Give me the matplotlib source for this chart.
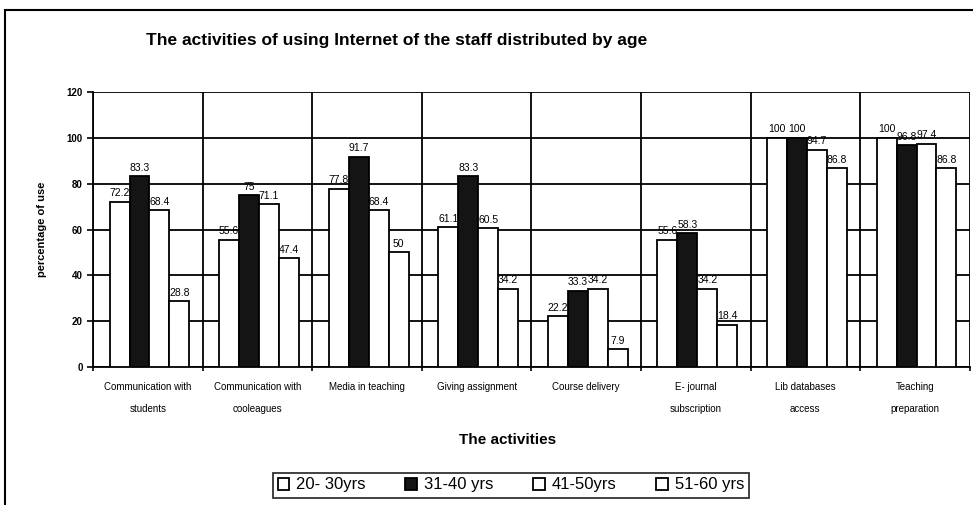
import matplotlib
matplotlib.use('Agg')
import matplotlib.pyplot as plt
from matplotlib.patches import Rectangle
import numpy as np

plt.rcParams['font.family'] = ['Liberation Sans', 'DejaVu Sans']

# Data
activities = ['Communication with\nstudents', 'Communication with\ncooleagues', 'Media in teaching',
              'Giving assignment', 'Course delivery', 'E- journal\nsubscription',
              'Lib databases\naccess', 'Teaching\npreparation']
groups = ['20- 30yrs', '31-40 yrs', '41-50yrs', '51-60 yrs']
age_20_30 = [72.2, 55.6, 77.8, 61.1, 22.2, 55.6, 100, 100]
age_31_40 = [83.3, 75, 91.7, 83.3, 33.3, 58.3, 100, 96.8]
age_41_50 = [68.4, 71.1, 68.4, 60.5, 34.2, 34.2, 94.7, 97.4]
age_51_60 = [28.8, 47.4, 50, 34.2, 7.9, 18.4, 86.8, 86.8]
series = [age_20_30, age_31_40, age_41_50, age_51_60]
colors = ['white', '#141414', 'white', 'white']

fig = plt.figure(figsize=(9.73, 5.05), dpi=100)
ax = fig.add_axes([0.0956, 0.273, 0.901, 0.545])

x = np.arange(len(activities))
w = 0.182
for i, vals in enumerate(series):
    pos = x + (i - 1.5) * w + 0.015
    ax.bar(pos, vals, width=w, color=colors[i], edgecolor='black', linewidth=1.3,
           label=groups[i], zorder=3)
    for px, v in zip(pos, vals):
        ax.text(px, v + 1.5, f'{v:g}', ha='center', va='bottom', fontsize=7.5,
                zorder=4)

ax.set_xlim(-0.5, len(activities) - 0.5)
ax.set_ylim(0, 120)
ax.set_yticks(range(0, 121, 20))
ax.set_xticks(x)
ax.set_xticklabels(activities, fontsize=7, linespacing=2.5)
ax.set_xticks(np.arange(-0.5, len(activities)), minor=True)
ax.tick_params(axis='x', which='major', length=0, pad=11)
ax.tick_params(axis='x', which='minor', length=3, width=1.2, direction='out')
ax.tick_params(axis='y', length=4, width=1.2, labelsize=7)
for lab in ax.get_yticklabels():
    lab.set_fontweight('bold')
ax.grid(axis='y', color='black', linewidth=1.3, zorder=0)
ax.grid(axis='x', which='minor', color='black', linewidth=1.3, zorder=0)
for s in ['top', 'right']:
    ax.spines[s].set_visible(False)
for s in ['left', 'bottom']:
    ax.spines[s].set_linewidth(1.3)

ax.set_ylabel('percentage of use', fontsize=8, fontweight='bold', labelpad=14)
fig.text(0.522, 1 - 440 / 505, 'The activities', fontsize=11, fontweight='bold',
         ha='center', va='center')

fig.text(0.150, 0.92, 'The activities of using Internet of the staff distributed by age',
         fontsize=12.5, fontweight='bold', va='center')

leg = fig.legend(loc='center', bbox_to_anchor=(0.525, 1 - 485 / 505), ncol=4, fontsize=12,
                 frameon=True, fancybox=False, edgecolor='black', handlelength=0.7,
                 handleheight=0.7, handletextpad=0.4, columnspacing=2.4,
                 borderpad=0.3)
leg.get_frame().set_linewidth(1.3)

fig.patches.append(Rectangle((5 / 973, -0.5), 2, 1 - 10 / 505 + 0.5, fill=False,
                             edgecolor='black', linewidth=1.5, transform=fig.transFigure))

fig.savefig('out.png', dpi=100)
